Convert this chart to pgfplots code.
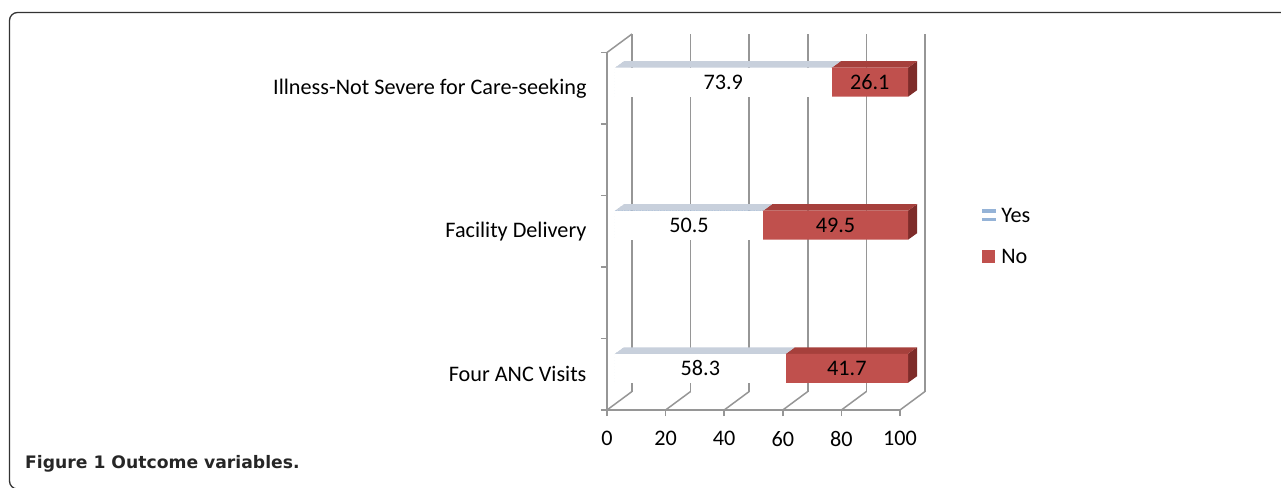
\documentclass[border=0pt]{standalone}
\usepackage{fontspec}
\setmainfont{Carlito}
\newfontfamily\capfont{DejaVu Sans}
\usepackage{pgfplots}
\pgfplotsset{compat=1.18}
\usepackage{pgfplotstable}
\usetikzlibrary{patterns}

\pgfdeclarepatternformonly{hstripe}{\pgfqpoint{0pt}{0pt}}{\pgfqpoint{3pt}{3pt}}{\pgfqpoint{3pt}{3pt}}%
  {\pgfpathrectangle{\pgfqpoint{-0.1pt}{0pt}}{\pgfqpoint{3.2pt}{1.4pt}}\pgfusepath{fill}}
\pgfdeclarepatternformonly{hstripetop}{\pgfqpoint{0pt}{0pt}}{\pgfqpoint{2pt}{2pt}}{\pgfqpoint{2pt}{2pt}}%
  {\pgfpathrectangle{\pgfqpoint{-0.1pt}{0pt}}{\pgfqpoint{2.2pt}{0.9pt}}\pgfusepath{fill}}

\definecolor{gridgray}{RGB}{150,150,150}
\definecolor{yesblue}{RGB}{149,179,215}
\definecolor{yestopbg}{RGB}{200,208,220}
\definecolor{yestopln}{RGB}{140,158,182}
\definecolor{nored}{RGB}{192,80,77}
\definecolor{noredtop}{RGB}{166,64,60}
\definecolor{noredside}{RGB}{126,44,42}

\pgfplotstableread{
y yes no
0 58.3 41.7
1 50.5 49.5
2 73.9 26.1
}\datatable

\begin{document}
\begin{tikzpicture}
\clip (-607pt,-77pt) rectangle (674pt,410pt);
\draw[line width=1.3pt, black!80, rounded corners=8pt]
  (720pt,-79pt) -- (-597.5pt,-79pt) -- (-597.5pt,397.5pt) -- (720pt,397.5pt);
\node[anchor=base west, inner sep=0pt, font=\capfont\bfseries\fontsize{17.2}{20}\selectfont, text=black!85]
  at (-582pt,-58pt) {Figure 1 Outcome variables.};

\begin{axis}[
  at={(0pt,0pt)}, anchor=south west,
  x=2.93pt, y=143pt,
  xmin=0, xmax=100, ymin=-0.25, ymax=2.25,
  clip=false,
  xbar stacked, bar width=29pt,
  axis x line*=bottom, axis y line*=left,
  axis line style={gridgray, line width=1.5pt},
  xtick={0,20,40,60,80,100},
  ytick={-0.25,0.25,0.75,1.25,1.75,2.25},
  yticklabels={},
  extra y ticks={0,1,2},
  extra y tick labels={Four ANC Visits, Facility Delivery, Illness-Not Severe for Care-seeking},
  extra y tick style={major tick length=0pt},
  tick align=outside,
  major tick length=6pt,
  every tick/.style={gridgray, line width=1.5pt},
  xmajorgrids,
  major grid style={gridgray, line width=1.5pt, xshift=25pt, yshift=18.5pt},
  tick label style={font=\fontsize{22.2}{26}\selectfont, text=black},
  /pgf/number format/assume math mode=true,
  yticklabel style={xshift=-17pt},
  xticklabel style={yshift=-12pt},
]
% floor and side edges
\draw[gridgray, line width=1.5pt] (axis cs:0,-0.25) -- (axis cs:8.532,-0.12063);
\draw[gridgray, line width=1.5pt] (axis cs:20,-0.25) -- (axis cs:28.532,-0.12063);
\draw[gridgray, line width=1.5pt] (axis cs:40,-0.25) -- (axis cs:48.532,-0.12063);
\draw[gridgray, line width=1.5pt] (axis cs:60,-0.25) -- (axis cs:68.532,-0.12063);
\draw[gridgray, line width=1.5pt] (axis cs:80,-0.25) -- (axis cs:88.532,-0.12063);
\draw[gridgray, line width=1.5pt] (axis cs:100,-0.25) -- (axis cs:108.532,-0.12063);
\draw[gridgray, line width=1.5pt] (axis cs:0,2.25) -- (axis cs:8.532,2.37937);

% white backing of the striped front faces
\fill[white] (axis cs:2.7304,1.94056) rectangle (axis cs:76.6304,2.14336);
\fill[white] (axis cs:2.7304,0.94056) rectangle (axis cs:53.2304,1.14336);
\fill[white] (axis cs:2.7304,-0.05944) rectangle (axis cs:61.0304,0.14336);

\addplot[draw=none, pattern=hstripe, pattern color=yesblue,
  xshift=8pt, yshift=6pt]
  table[x=yes, y=y] {\datatable};
\addplot[fill=nored, draw=none,
  xshift=8pt, yshift=6pt]
  table[x=no, y=y] {\datatable};

% top faces: yes
\fill[yestopbg] (axis cs:2.7304,2.14336) -- (axis cs:76.6304,2.14336) -- (axis cs:79.7021,2.18881) -- (axis cs:5.8021,2.18881) -- cycle;
\fill[yestopbg] (axis cs:2.7304,1.14336) -- (axis cs:53.2304,1.14336) -- (axis cs:56.3021,1.18881) -- (axis cs:5.8021,1.18881) -- cycle;
\fill[yestopbg] (axis cs:2.7304,0.14336) -- (axis cs:61.0304,0.14336) -- (axis cs:64.1021,0.18881) -- (axis cs:5.8021,0.18881) -- cycle;
\fill[pattern=hstripetop, pattern color=yestopln] (axis cs:2.7304,2.14336) -- (axis cs:76.6304,2.14336) -- (axis cs:79.7021,2.18881) -- (axis cs:5.8021,2.18881) -- cycle;
\fill[pattern=hstripetop, pattern color=yestopln] (axis cs:2.7304,1.14336) -- (axis cs:53.2304,1.14336) -- (axis cs:56.3021,1.18881) -- (axis cs:5.8021,1.18881) -- cycle;
\fill[pattern=hstripetop, pattern color=yestopln] (axis cs:2.7304,0.14336) -- (axis cs:61.0304,0.14336) -- (axis cs:64.1021,0.18881) -- (axis cs:5.8021,0.18881) -- cycle;
% top faces: no
\fill[noredtop] (axis cs:76.6304,2.14336) -- (axis cs:102.7304,2.14336) -- (axis cs:105.8021,2.18881) -- (axis cs:79.7021,2.18881) -- cycle;
\fill[noredtop] (axis cs:53.2304,1.14336) -- (axis cs:102.7304,1.14336) -- (axis cs:105.8021,1.18881) -- (axis cs:56.3021,1.18881) -- cycle;
\fill[noredtop] (axis cs:61.0304,0.14336) -- (axis cs:102.7304,0.14336) -- (axis cs:105.8021,0.18881) -- (axis cs:64.1021,0.18881) -- cycle;
% side faces
\fill[noredside] (axis cs:102.7304,1.94056) -- (axis cs:102.7304,2.14336) -- (axis cs:105.8021,2.18881) -- (axis cs:105.8021,1.98601) -- cycle;
\fill[noredside] (axis cs:102.7304,0.94056) -- (axis cs:102.7304,1.14336) -- (axis cs:105.8021,1.18881) -- (axis cs:105.8021,0.98601) -- cycle;
\fill[noredside] (axis cs:102.7304,-0.05944) -- (axis cs:102.7304,0.14336) -- (axis cs:105.8021,0.18881) -- (axis cs:105.8021,-0.01399) -- cycle;
% anchor points of the value labels (segment centres)
\coordinate (l2a) at (axis cs:39.68,2.042);
\coordinate (l2b) at (axis cs:89.68,2.042);
\coordinate (l1a) at (axis cs:27.98,1.042);
\coordinate (l1b) at (axis cs:77.98,1.042);
\coordinate (l0a) at (axis cs:31.88,0.042);
\coordinate (l0b) at (axis cs:81.88,0.042);
% legend
\fill[yesblue] (axis cs:127.99,1.1311) rectangle (axis cs:132.76,1.1556);
\fill[yesblue] (axis cs:127.99,1.0682) rectangle (axis cs:132.76,1.0927);
\node[anchor=west, inner sep=0pt, font=\fontsize{22.2}{26}\selectfont] at (axis cs:134.5,1.1136) {Yes};
\fill[nored] (axis cs:127.99,0.7780) rectangle (axis cs:132.42,0.8689);
\node[anchor=west, inner sep=0pt, font=\fontsize{22.2}{26}\selectfont] at (axis cs:134.5,0.827) {No};
\end{axis}
\begin{scope}[every node/.style={font=\fontsize{22.2}{26}\selectfont, inner sep=0pt, text=black}]
\node at (l2a) {73.9};
\node at (l2b) {26.1};
\node at (l1a) {50.5};
\node at (l1b) {49.5};
\node at (l0a) {58.3};
\node at (l0b) {41.7};
\end{scope}
\end{tikzpicture}
\end{document}
